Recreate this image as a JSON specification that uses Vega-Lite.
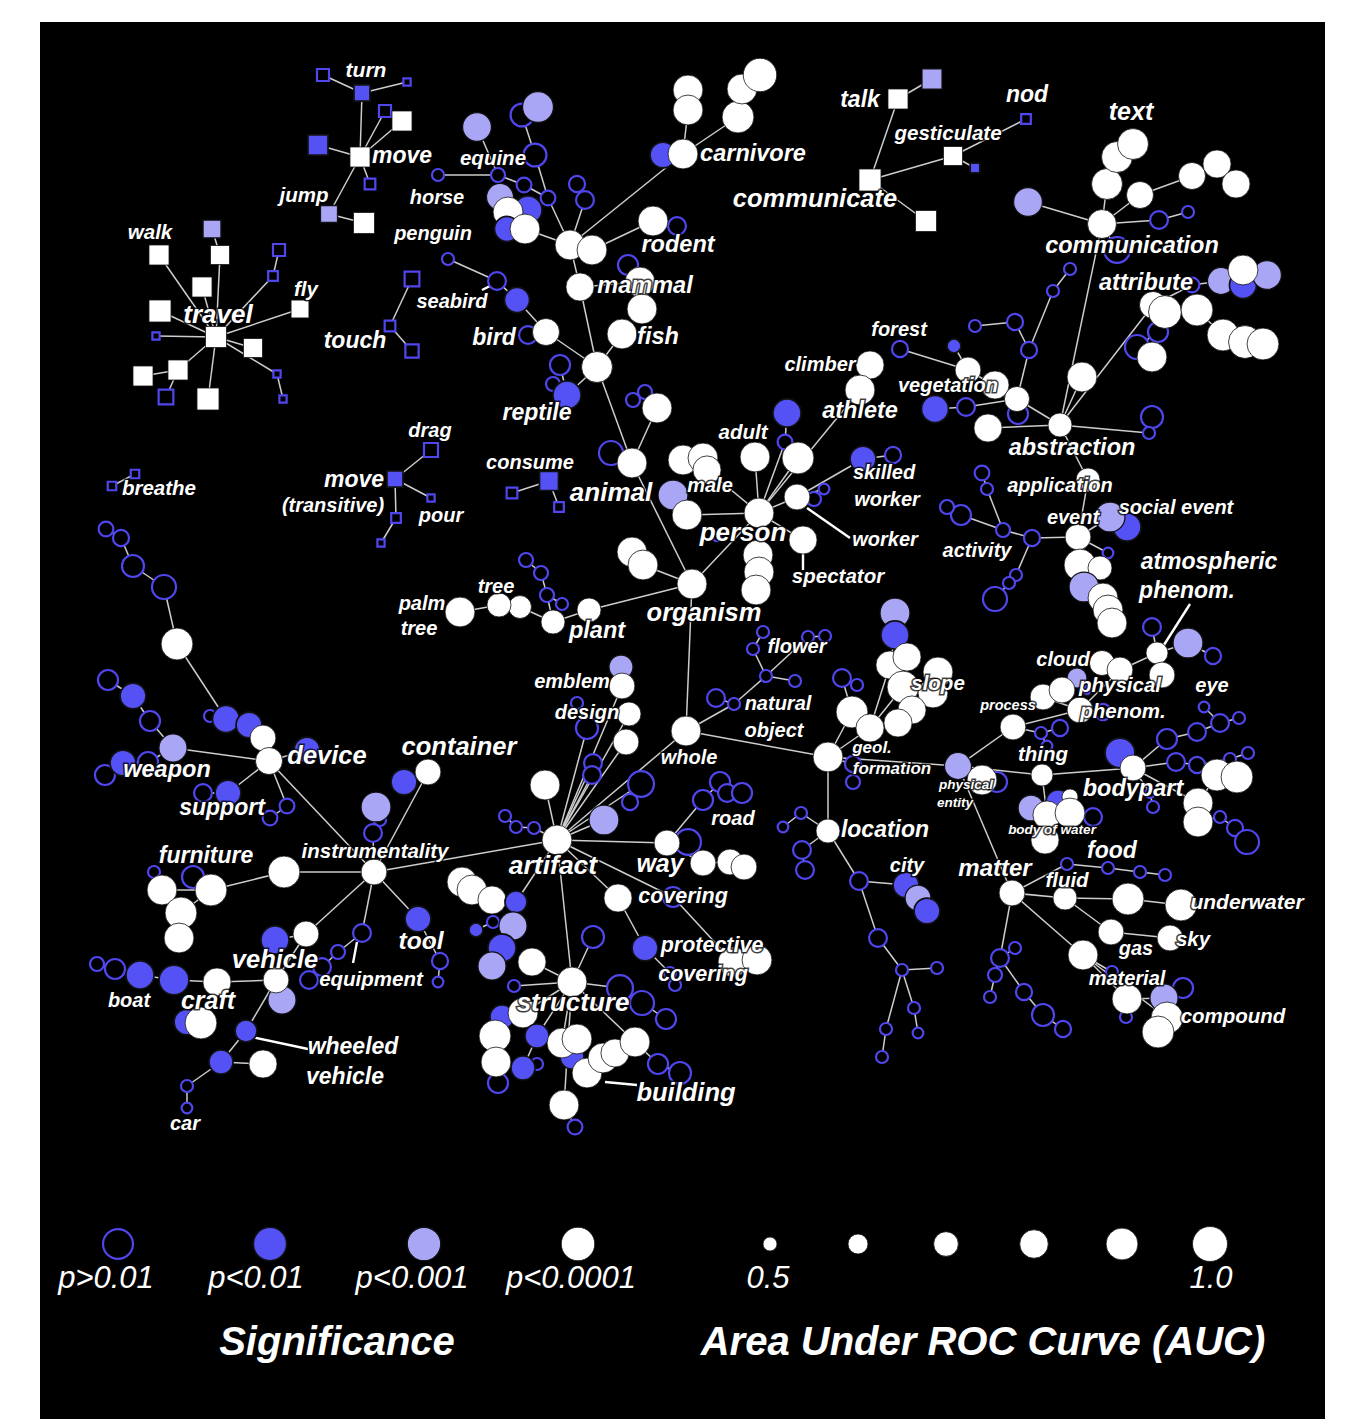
{
"$schema": "https://vega.github.io/schema/vega-lite/v6.json",
"width": 1285, "height": 1397,
"autosize": {"type": "none"},
"padding": {"left": 40, "top": 22, "right": 32, "bottom": 0},
"background": "white",
"config": {"view": {"fill": "black", "stroke": null}},
"resolve": {"scale": {"size": "independent"}},
"datasets": {
"nodes": [
{"id":"v1","x":362,"y":93,"sig":"<0.01","auc":0.53,"shape":"square"},
{"id":"v2","x":323,"y":75,"sig":">0.01","auc":0.475,"shape":"square"},
{"id":"v3","x":407,"y":82,"sig":">0.01","auc":0.43,"shape":"square"},
{"id":"v4","x":360,"y":157,"sig":"<0.0001","auc":0.6,"shape":"square"},
{"id":"v5","x":385,"y":111,"sig":">0.01","auc":0.475,"shape":"square"},
{"id":"v6","x":402,"y":121,"sig":"<0.0001","auc":0.6,"shape":"square"},
{"id":"v7","x":318,"y":145,"sig":"<0.01","auc":0.6,"shape":"square"},
{"id":"v8","x":370,"y":184,"sig":">0.01","auc":0.46,"shape":"square"},
{"id":"v9","x":329,"y":214,"sig":"<0.001","auc":0.545,"shape":"square"},
{"id":"v10","x":364,"y":223,"sig":"<0.0001","auc":0.62,"shape":"square"},
{"id":"t0","x":216,"y":337,"sig":"<0.0001","auc":0.62,"shape":"square"},
{"id":"t1","x":159,"y":255,"sig":"<0.0001","auc":0.6,"shape":"square"},
{"id":"t2","x":212,"y":229,"sig":"<0.001","auc":0.56,"shape":"square"},
{"id":"t3","x":220,"y":255,"sig":"<0.0001","auc":0.58,"shape":"square"},
{"id":"t4","x":279,"y":250,"sig":">0.01","auc":0.475,"shape":"square"},
{"id":"t5","x":273,"y":276,"sig":">0.01","auc":0.45,"shape":"square"},
{"id":"t6","x":202,"y":287,"sig":"<0.0001","auc":0.6,"shape":"square"},
{"id":"t7","x":160,"y":311,"sig":"<0.0001","auc":0.64,"shape":"square"},
{"id":"t8","x":300,"y":309,"sig":"<0.0001","auc":0.56,"shape":"square"},
{"id":"t9","x":156,"y":336,"sig":">0.01","auc":0.43,"shape":"square"},
{"id":"t10","x":253,"y":348,"sig":"<0.0001","auc":0.58,"shape":"square"},
{"id":"t11","x":277,"y":374,"sig":">0.01","auc":0.43,"shape":"square"},
{"id":"t12","x":283,"y":399,"sig":">0.01","auc":0.43,"shape":"square"},
{"id":"t13","x":178,"y":370,"sig":"<0.0001","auc":0.6,"shape":"square"},
{"id":"t14","x":143,"y":376,"sig":"<0.0001","auc":0.6,"shape":"square"},
{"id":"t15","x":166,"y":397,"sig":">0.01","auc":0.51,"shape":"square"},
{"id":"t16","x":208,"y":399,"sig":"<0.0001","auc":0.64,"shape":"square"},
{"id":"u1","x":412,"y":279,"sig":">0.01","auc":0.51,"shape":"square"},
{"id":"u2","x":390,"y":326,"sig":">0.01","auc":0.46,"shape":"square"},
{"id":"u3","x":412,"y":351,"sig":">0.01","auc":0.49,"shape":"square"},
{"id":"c1","x":898,"y":99,"sig":"<0.0001","auc":0.6,"shape":"square"},
{"id":"c2","x":932,"y":79,"sig":"<0.001","auc":0.6,"shape":"square"},
{"id":"c3","x":870,"y":180,"sig":"<0.0001","auc":0.64,"shape":"square"},
{"id":"c4","x":953,"y":156,"sig":"<0.0001","auc":0.58,"shape":"square"},
{"id":"c5","x":975,"y":168,"sig":"<0.01","auc":0.45,"shape":"square"},
{"id":"c6","x":1026,"y":119,"sig":">0.01","auc":0.45,"shape":"square"},
{"id":"c7","x":926,"y":221,"sig":"<0.0001","auc":0.62,"shape":"square"},
{"id":"d1","x":395,"y":479,"sig":"<0.01","auc":0.53,"shape":"square"},
{"id":"d2","x":431,"y":450,"sig":">0.01","auc":0.5,"shape":"square"},
{"id":"d3","x":431,"y":498,"sig":">0.01","auc":0.43,"shape":"square"},
{"id":"d4","x":396,"y":518,"sig":">0.01","auc":0.45,"shape":"square"},
{"id":"d5","x":381,"y":543,"sig":">0.01","auc":0.43,"shape":"square"},
{"id":"b1","x":112,"y":486,"sig":">0.01","auc":0.44,"shape":"square"},
{"id":"b2","x":135,"y":474,"sig":">0.01","auc":0.44,"shape":"square"},
{"id":"e1","x":549,"y":481,"sig":"<0.01","auc":0.58,"shape":"square"},
{"id":"e2","x":512,"y":493,"sig":">0.01","auc":0.46,"shape":"square"},
{"id":"e3","x":559,"y":507,"sig":">0.01","auc":0.45,"shape":"square"},
{"id":"a1","x":438,"y":175,"sig":">0.01","auc":0.475},
{"id":"a2","x":498,"y":175,"sig":">0.01","auc":0.5},
{"id":"a3","x":477,"y":127,"sig":"<0.001","auc":0.81},
{"id":"a4","x":522,"y":115,"sig":">0.01","auc":0.66},
{"id":"a5","x":538,"y":107,"sig":"<0.001","auc":0.87},
{"id":"a6","x":535,"y":155,"sig":">0.01","auc":0.66},
{"id":"a7","x":524,"y":185,"sig":">0.01","auc":0.51},
{"id":"a8","x":548,"y":198,"sig":">0.01","auc":0.51},
{"id":"a9","x":577,"y":184,"sig":">0.01","auc":0.53},
{"id":"a10","x":585,"y":200,"sig":">0.01","auc":0.56},
{"id":"a11","x":500,"y":197,"sig":"<0.001","auc":0.76},
{"id":"a12","x":528,"y":210,"sig":"<0.01","auc":0.79},
{"id":"a13","x":508,"y":212,"sig":"<0.0001","auc":0.84},
{"id":"a14","x":507,"y":229,"sig":"<0.01","auc":0.71},
{"id":"a15","x":525,"y":229,"sig":"<0.0001","auc":0.84},
{"id":"a0","x":570,"y":245,"sig":"<0.0001","auc":0.84},
{"id":"a0b","x":592,"y":250,"sig":"<0.0001","auc":0.84},
{"id":"a21","x":663,"y":155,"sig":"<0.01","auc":0.73},
{"id":"a20","x":683,"y":154,"sig":"<0.0001","auc":0.84},
{"id":"a22","x":688,"y":90,"sig":"<0.0001","auc":0.84},
{"id":"a23","x":688,"y":110,"sig":"<0.0001","auc":0.84},
{"id":"a24","x":738,"y":117,"sig":"<0.0001","auc":0.9},
{"id":"a25","x":742,"y":89,"sig":"<0.0001","auc":0.84},
{"id":"a26","x":760,"y":75,"sig":"<0.0001","auc":0.95},
{"id":"a28","x":677,"y":226,"sig":">0.01","auc":0.56},
{"id":"a27","x":653,"y":221,"sig":"<0.0001","auc":0.84},
{"id":"a31","x":628,"y":265,"sig":">0.01","auc":0.6},
{"id":"a30","x":580,"y":287,"sig":"<0.0001","auc":0.79},
{"id":"a32","x":640,"y":282,"sig":"<0.0001","auc":0.84},
{"id":"a33","x":642,"y":309,"sig":"<0.0001","auc":0.84},
{"id":"a34","x":622,"y":334,"sig":"<0.0001","auc":0.84},
{"id":"a36","x":448,"y":259,"sig":">0.01","auc":0.475},
{"id":"a37","x":497,"y":281,"sig":">0.01","auc":0.56},
{"id":"a38","x":517,"y":300,"sig":"<0.01","auc":0.71},
{"id":"a40","x":528,"y":335,"sig":">0.01","auc":0.56},
{"id":"a39","x":546,"y":332,"sig":"<0.0001","auc":0.76},
{"id":"a41","x":560,"y":365,"sig":">0.01","auc":0.6},
{"id":"a42","x":553,"y":384,"sig":">0.01","auc":0.5},
{"id":"a43","x":567,"y":395,"sig":"<0.01","auc":0.79},
{"id":"a35","x":597,"y":367,"sig":"<0.0001","auc":0.87},
{"id":"a45","x":611,"y":453,"sig":">0.01","auc":0.685},
{"id":"a44","x":632,"y":463,"sig":"<0.0001","auc":0.84},
{"id":"a47","x":633,"y":400,"sig":">0.01","auc":0.5},
{"id":"a48","x":645,"y":392,"sig":">0.01","auc":0.5},
{"id":"a46","x":657,"y":408,"sig":"<0.0001","auc":0.84},
{"id":"o1","x":632,"y":552,"sig":"<0.0001","auc":0.84},
{"id":"o2","x":643,"y":565,"sig":"<0.0001","auc":0.84},
{"id":"o0","x":692,"y":584,"sig":"<0.0001","auc":0.84},
{"id":"o4","x":683,"y":460,"sig":"<0.0001","auc":0.84},
{"id":"o5","x":703,"y":458,"sig":"<0.0001","auc":0.84},
{"id":"o6","x":707,"y":470,"sig":"<0.0001","auc":0.79},
{"id":"o7","x":673,"y":495,"sig":"<0.001","auc":0.84},
{"id":"o8","x":687,"y":515,"sig":"<0.0001","auc":0.84},
{"id":"o9","x":755,"y":457,"sig":"<0.0001","auc":0.84},
{"id":"o10","x":787,"y":413,"sig":"<0.01","auc":0.79},
{"id":"o11","x":785,"y":442,"sig":">0.01","auc":0.51},
{"id":"o12","x":798,"y":458,"sig":"<0.0001","auc":0.9},
{"id":"o13","x":870,"y":365,"sig":"<0.0001","auc":0.79},
{"id":"o14","x":860,"y":390,"sig":"<0.0001","auc":0.84},
{"id":"o16","x":814,"y":499,"sig":">0.01","auc":0.5},
{"id":"o17","x":824,"y":489,"sig":">0.01","auc":0.46},
{"id":"o15","x":797,"y":497,"sig":"<0.0001","auc":0.73},
{"id":"o18","x":863,"y":459,"sig":"<0.01","auc":0.73},
{"id":"o19","x":893,"y":455,"sig":">0.01","auc":0.53},
{"id":"o24","x":717,"y":537,"sig":">0.01","auc":0.44},
{"id":"o3","x":759,"y":513,"sig":"<0.0001","auc":0.84},
{"id":"o20","x":803,"y":540,"sig":"<0.0001","auc":0.79},
{"id":"o21","x":758,"y":555,"sig":"<0.0001","auc":0.84},
{"id":"o22","x":759,"y":572,"sig":"<0.0001","auc":0.84},
{"id":"o23","x":756,"y":590,"sig":"<0.0001","auc":0.84},
{"id":"o27","x":526,"y":560,"sig":">0.01","auc":0.5},
{"id":"o28","x":541,"y":573,"sig":">0.01","auc":0.5},
{"id":"o29","x":547,"y":595,"sig":">0.01","auc":0.5},
{"id":"o30","x":562,"y":604,"sig":">0.01","auc":0.475},
{"id":"o26","x":553,"y":622,"sig":"<0.0001","auc":0.685},
{"id":"o25","x":589,"y":610,"sig":"<0.0001","auc":0.685},
{"id":"o31","x":520,"y":607,"sig":"<0.0001","auc":0.66},
{"id":"o32","x":499,"y":605,"sig":"<0.0001","auc":0.685},
{"id":"o33","x":460,"y":612,"sig":"<0.0001","auc":0.84},
{"id":"w0","x":686,"y":731,"sig":"<0.0001","auc":0.84},
{"id":"w1","x":734,"y":704,"sig":">0.01","auc":0.475},
{"id":"w2","x":716,"y":698,"sig":">0.01","auc":0.56},
{"id":"w3","x":766,"y":676,"sig":">0.01","auc":0.475},
{"id":"w4","x":753,"y":649,"sig":">0.01","auc":0.475},
{"id":"w5","x":763,"y":632,"sig":">0.01","auc":0.475},
{"id":"w6","x":795,"y":681,"sig":">0.01","auc":0.475},
{"id":"w7","x":808,"y":637,"sig":">0.01","auc":0.475},
{"id":"w8","x":825,"y":636,"sig":">0.01","auc":0.475},
{"id":"w22","x":842,"y":678,"sig":">0.01","auc":0.56},
{"id":"w23","x":857,"y":685,"sig":">0.01","auc":0.475},
{"id":"w11","x":895,"y":613,"sig":"<0.001","auc":0.84},
{"id":"w12","x":895,"y":635,"sig":"<0.01","auc":0.79},
{"id":"w13","x":890,"y":665,"sig":"<0.0001","auc":0.79},
{"id":"w14","x":907,"y":657,"sig":"<0.0001","auc":0.79},
{"id":"w15","x":938,"y":672,"sig":"<0.0001","auc":0.84},
{"id":"w16","x":903,"y":687,"sig":"<0.0001","auc":0.9},
{"id":"w17","x":933,"y":693,"sig":"<0.0001","auc":0.84},
{"id":"w18","x":852,"y":712,"sig":"<0.0001","auc":0.9},
{"id":"w21","x":912,"y":710,"sig":"<0.0001","auc":0.79},
{"id":"w20","x":898,"y":723,"sig":"<0.0001","auc":0.79},
{"id":"w19","x":870,"y":728,"sig":"<0.0001","auc":0.79},
{"id":"w24","x":853,"y":764,"sig":">0.01","auc":0.53},
{"id":"w25","x":853,"y":782,"sig":">0.01","auc":0.5},
{"id":"w10","x":828,"y":757,"sig":"<0.0001","auc":0.84},
{"id":"r4","x":577,"y":703,"sig":">0.01","auc":0.475},
{"id":"r1","x":621,"y":667,"sig":"<0.001","auc":0.685},
{"id":"r2","x":622,"y":686,"sig":"<0.0001","auc":0.73},
{"id":"r3","x":629,"y":714,"sig":"<0.0001","auc":0.685},
{"id":"r5","x":587,"y":728,"sig":">0.01","auc":0.64},
{"id":"r6","x":626,"y":742,"sig":"<0.0001","auc":0.73},
{"id":"r7","x":593,"y":763,"sig":">0.01","auc":0.56},
{"id":"r8","x":592,"y":775,"sig":">0.01","auc":0.56},
{"id":"r9","x":641,"y":784,"sig":">0.01","auc":0.73},
{"id":"r10","x":630,"y":802,"sig":">0.01","auc":0.53},
{"id":"r11","x":604,"y":820,"sig":"<0.001","auc":0.84},
{"id":"r12","x":545,"y":785,"sig":"<0.0001","auc":0.84},
{"id":"r13","x":505,"y":816,"sig":">0.01","auc":0.475},
{"id":"r14","x":516,"y":827,"sig":">0.01","auc":0.475},
{"id":"r15","x":534,"y":828,"sig":">0.01","auc":0.475},
{"id":"r0","x":557,"y":840,"sig":"<0.0001","auc":0.84},
{"id":"r22","x":703,"y":800,"sig":">0.01","auc":0.6},
{"id":"r23","x":720,"y":782,"sig":">0.01","auc":0.6},
{"id":"r25","x":727,"y":793,"sig":">0.01","auc":0.56},
{"id":"r24","x":742,"y":793,"sig":">0.01","auc":0.6},
{"id":"r21","x":688,"y":842,"sig":">0.01","auc":0.73},
{"id":"r20","x":667,"y":843,"sig":"<0.0001","auc":0.73},
{"id":"r26","x":703,"y":863,"sig":"<0.0001","auc":0.73},
{"id":"r27","x":730,"y":862,"sig":"<0.0001","auc":0.73},
{"id":"r28","x":744,"y":867,"sig":"<0.0001","auc":0.73},
{"id":"r31","x":673,"y":897,"sig":">0.01","auc":0.6},
{"id":"r30","x":618,"y":898,"sig":"<0.0001","auc":0.79},
{"id":"r32","x":645,"y":948,"sig":"<0.01","auc":0.73},
{"id":"r33b","x":670,"y":973,"sig":">0.01","auc":0.475},
{"id":"r33","x":675,"y":985,"sig":">0.01","auc":0.475},
{"id":"r34","x":733,"y":962,"sig":"<0.0001","auc":0.84},
{"id":"r35","x":757,"y":960,"sig":"<0.0001","auc":0.84},
{"id":"s7","x":493,"y":922,"sig":">0.01","auc":0.475},
{"id":"s8","x":476,"y":930,"sig":"<0.01","auc":0.5},
{"id":"s10","x":462,"y":882,"sig":"<0.0001","auc":0.84},
{"id":"s11","x":472,"y":890,"sig":"<0.0001","auc":0.84},
{"id":"s12","x":492,"y":900,"sig":"<0.0001","auc":0.79},
{"id":"s9","x":516,"y":902,"sig":"<0.01","auc":0.64},
{"id":"s4","x":513,"y":926,"sig":"<0.001","auc":0.79},
{"id":"s5","x":502,"y":948,"sig":"<0.01","auc":0.79},
{"id":"s6","x":492,"y":966,"sig":"<0.001","auc":0.79},
{"id":"s1","x":593,"y":937,"sig":">0.01","auc":0.64},
{"id":"s2","x":532,"y":962,"sig":"<0.0001","auc":0.79},
{"id":"s3","x":514,"y":986,"sig":">0.01","auc":0.475},
{"id":"s20","x":620,"y":988,"sig":">0.01","auc":0.73},
{"id":"s21","x":642,"y":1003,"sig":">0.01","auc":0.685},
{"id":"s22","x":666,"y":1019,"sig":">0.01","auc":0.6},
{"id":"s24","x":502,"y":1017,"sig":"<0.01","auc":0.685},
{"id":"s23","x":523,"y":1013,"sig":"<0.0001","auc":0.84},
{"id":"s26","x":537,"y":1036,"sig":"<0.01","auc":0.685},
{"id":"s25","x":495,"y":1036,"sig":"<0.0001","auc":0.9},
{"id":"s29","x":537,"y":1064,"sig":">0.01","auc":0.475},
{"id":"s30","x":498,"y":1083,"sig":">0.01","auc":0.6},
{"id":"s28","x":523,"y":1068,"sig":"<0.01","auc":0.685},
{"id":"s27","x":496,"y":1062,"sig":"<0.0001","auc":0.84},
{"id":"s33","x":572,"y":1057,"sig":"<0.01","auc":0.685},
{"id":"s31","x":562,"y":1043,"sig":"<0.0001","auc":0.84},
{"id":"s32","x":577,"y":1039,"sig":"<0.0001","auc":0.84},
{"id":"s38","x":658,"y":1064,"sig":">0.01","auc":0.6},
{"id":"s39","x":680,"y":1073,"sig":">0.01","auc":0.64},
{"id":"s34","x":587,"y":1073,"sig":"<0.0001","auc":0.84},
{"id":"s35","x":603,"y":1058,"sig":"<0.0001","auc":0.84},
{"id":"s36","x":615,"y":1053,"sig":"<0.0001","auc":0.79},
{"id":"s37","x":635,"y":1042,"sig":"<0.0001","auc":0.84},
{"id":"s0","x":572,"y":982,"sig":"<0.0001","auc":0.84},
{"id":"s41","x":575,"y":1127,"sig":">0.01","auc":0.51},
{"id":"s40","x":564,"y":1105,"sig":"<0.0001","auc":0.84},
{"id":"i16","x":106,"y":529,"sig":">0.01","auc":0.51},
{"id":"i15","x":121,"y":538,"sig":">0.01","auc":0.53},
{"id":"i14","x":133,"y":566,"sig":">0.01","auc":0.64},
{"id":"i13","x":164,"y":587,"sig":">0.01","auc":0.685},
{"id":"i12","x":177,"y":644,"sig":"<0.0001","auc":0.9},
{"id":"i10","x":210,"y":716,"sig":">0.01","auc":0.475},
{"id":"i9","x":226,"y":719,"sig":"<0.01","auc":0.76},
{"id":"i8","x":249,"y":725,"sig":"<0.01","auc":0.73},
{"id":"i11","x":307,"y":750,"sig":"<0.01","auc":0.73},
{"id":"i7","x":263,"y":738,"sig":"<0.0001","auc":0.73},
{"id":"i6","x":269,"y":761,"sig":"<0.0001","auc":0.76},
{"id":"i20","x":108,"y":680,"sig":">0.01","auc":0.6},
{"id":"i19","x":133,"y":696,"sig":"<0.01","auc":0.73},
{"id":"i18","x":150,"y":721,"sig":">0.01","auc":0.6},
{"id":"i17","x":173,"y":748,"sig":"<0.001","auc":0.79},
{"id":"i23","x":105,"y":775,"sig":">0.01","auc":0.6},
{"id":"i22","x":123,"y":763,"sig":"<0.01","auc":0.73},
{"id":"i21","x":148,"y":762,"sig":">0.01","auc":0.6},
{"id":"i25","x":203,"y":793,"sig":">0.01","auc":0.56},
{"id":"i24","x":228,"y":793,"sig":"<0.01","auc":0.73},
{"id":"i26","x":287,"y":806,"sig":">0.01","auc":0.51},
{"id":"i27","x":270,"y":818,"sig":">0.01","auc":0.51},
{"id":"i5","x":380,"y":820,"sig":">0.01","auc":0.475},
{"id":"i4","x":373,"y":833,"sig":">0.01","auc":0.56},
{"id":"i3","x":376,"y":807,"sig":"<0.001","auc":0.84},
{"id":"i2","x":404,"y":782,"sig":"<0.01","auc":0.73},
{"id":"i1","x":428,"y":772,"sig":"<0.0001","auc":0.73},
{"id":"i0","x":374,"y":872,"sig":"<0.0001","auc":0.73},
{"id":"i30","x":284,"y":872,"sig":"<0.0001","auc":0.9},
{"id":"i34","x":154,"y":872,"sig":">0.01","auc":0.475},
{"id":"i33","x":193,"y":877,"sig":">0.01","auc":0.64},
{"id":"i32","x":162,"y":890,"sig":"<0.0001","auc":0.84},
{"id":"i31","x":211,"y":890,"sig":"<0.0001","auc":0.9},
{"id":"i35","x":181,"y":913,"sig":"<0.0001","auc":0.9},
{"id":"i36","x":179,"y":938,"sig":"<0.0001","auc":0.84},
{"id":"i41","x":275,"y":940,"sig":"<0.01","auc":0.79},
{"id":"i40","x":306,"y":934,"sig":"<0.0001","auc":0.73},
{"id":"i60","x":362,"y":933,"sig":">0.01","auc":0.56},
{"id":"i61","x":338,"y":952,"sig":">0.01","auc":0.5},
{"id":"i62","x":322,"y":967,"sig":">0.01","auc":0.56},
{"id":"i63","x":309,"y":980,"sig":">0.01","auc":0.56},
{"id":"i64","x":418,"y":919,"sig":"<0.01","auc":0.73},
{"id":"i65","x":440,"y":961,"sig":">0.01","auc":0.53},
{"id":"i66","x":438,"y":982,"sig":">0.01","auc":0.46},
{"id":"i47","x":97,"y":964,"sig":">0.01","auc":0.5},
{"id":"i46","x":115,"y":969,"sig":">0.01","auc":0.6},
{"id":"i45","x":140,"y":975,"sig":"<0.01","auc":0.79},
{"id":"i44","x":174,"y":980,"sig":"<0.01","auc":0.84},
{"id":"i43","x":217,"y":982,"sig":"<0.0001","auc":0.79},
{"id":"i48","x":187,"y":1022,"sig":"<0.01","auc":0.73},
{"id":"i49","x":201,"y":1023,"sig":"<0.0001","auc":0.9},
{"id":"i50","x":282,"y":1000,"sig":"<0.001","auc":0.79},
{"id":"i42","x":276,"y":980,"sig":"<0.0001","auc":0.73},
{"id":"i51","x":246,"y":1031,"sig":"<0.01","auc":0.64},
{"id":"i52","x":221,"y":1062,"sig":"<0.01","auc":0.685},
{"id":"i53","x":263,"y":1064,"sig":"<0.0001","auc":0.79},
{"id":"i54","x":187,"y":1086,"sig":">0.01","auc":0.475},
{"id":"i55","x":187,"y":1108,"sig":">0.01","auc":0.46},
{"id":"l0","x":828,"y":831,"sig":"<0.0001","auc":0.685},
{"id":"l1","x":801,"y":813,"sig":">0.01","auc":0.475},
{"id":"l2","x":783,"y":827,"sig":">0.01","auc":0.46},
{"id":"l3","x":802,"y":850,"sig":">0.01","auc":0.56},
{"id":"l4","x":805,"y":870,"sig":">0.01","auc":0.56},
{"id":"l5","x":859,"y":881,"sig":">0.01","auc":0.56},
{"id":"l6","x":906,"y":885,"sig":"<0.01","auc":0.73},
{"id":"l7","x":918,"y":898,"sig":"<0.001","auc":0.73},
{"id":"l8","x":927,"y":911,"sig":"<0.01","auc":0.73},
{"id":"l9","x":878,"y":938,"sig":">0.01","auc":0.56},
{"id":"l10","x":902,"y":970,"sig":">0.01","auc":0.475},
{"id":"l11","x":937,"y":968,"sig":">0.01","auc":0.475},
{"id":"l12","x":914,"y":1008,"sig":">0.01","auc":0.475},
{"id":"l13","x":918,"y":1033,"sig":">0.01","auc":0.46},
{"id":"l14","x":886,"y":1029,"sig":">0.01","auc":0.475},
{"id":"l15","x":882,"y":1057,"sig":">0.01","auc":0.475},
{"id":"p2","x":997,"y":782,"sig":">0.01","auc":0.6},
{"id":"p0","x":958,"y":766,"sig":"<0.001","auc":0.76},
{"id":"p1","x":982,"y":780,"sig":"<0.0001","auc":0.84},
{"id":"p5","x":1060,"y":728,"sig":">0.01","auc":0.53},
{"id":"p6","x":1041,"y":733,"sig":">0.01","auc":0.475},
{"id":"p7","x":1047,"y":746,"sig":">0.01","auc":0.46},
{"id":"p3","x":1013,"y":727,"sig":"<0.0001","auc":0.73},
{"id":"p8","x":1077,"y":678,"sig":"<0.001","auc":0.6},
{"id":"p9","x":1087,"y":690,"sig":"<0.01","auc":0.47},
{"id":"p11","x":1043,"y":697,"sig":"<0.0001","auc":0.73},
{"id":"p10","x":1062,"y":690,"sig":"<0.0001","auc":0.73},
{"id":"p12","x":1103,"y":712,"sig":">0.01","auc":0.53},
{"id":"p4","x":1080,"y":710,"sig":"<0.0001","auc":0.73},
{"id":"p13","x":1102,"y":663,"sig":"<0.0001","auc":0.71},
{"id":"p14","x":1120,"y":670,"sig":"<0.0001","auc":0.73},
{"id":"p17","x":1152,"y":627,"sig":">0.01","auc":0.56},
{"id":"p18","x":1188,"y":643,"sig":"<0.001","auc":0.84},
{"id":"p19","x":1213,"y":656,"sig":">0.01","auc":0.53},
{"id":"p15","x":1157,"y":653,"sig":"<0.0001","auc":0.64},
{"id":"p16","x":1162,"y":675,"sig":"<0.0001","auc":0.73},
{"id":"p20","x":1042,"y":775,"sig":"<0.0001","auc":0.64},
{"id":"p27","x":1093,"y":817,"sig":">0.01","auc":0.56},
{"id":"p21","x":1031,"y":808,"sig":"<0.001","auc":0.73},
{"id":"p22","x":1058,"y":802,"sig":"<0.01","auc":0.685},
{"id":"p23","x":1070,"y":797,"sig":"<0.0001","auc":0.53},
{"id":"p24","x":1047,"y":815,"sig":"<0.0001","auc":0.79},
{"id":"p25","x":1070,"y":813,"sig":"<0.0001","auc":0.84},
{"id":"p26","x":1045,"y":840,"sig":"<0.0001","auc":0.79},
{"id":"p31","x":1120,"y":753,"sig":"<0.01","auc":0.84},
{"id":"p30","x":1133,"y":768,"sig":"<0.0001","auc":0.73},
{"id":"p32","x":1167,"y":739,"sig":">0.01","auc":0.6},
{"id":"p33","x":1197,"y":732,"sig":">0.01","auc":0.56},
{"id":"p34","x":1220,"y":723,"sig":">0.01","auc":0.56},
{"id":"p35","x":1204,"y":707,"sig":">0.01","auc":0.46},
{"id":"p36","x":1239,"y":718,"sig":">0.01","auc":0.475},
{"id":"p37","x":1176,"y":762,"sig":">0.01","auc":0.56},
{"id":"p38","x":1197,"y":765,"sig":">0.01","auc":0.53},
{"id":"p39","x":1230,"y":759,"sig":">0.01","auc":0.475},
{"id":"p40","x":1248,"y":753,"sig":">0.01","auc":0.475},
{"id":"p49","x":1150,"y":793,"sig":">0.01","auc":0.45},
{"id":"p48","x":1153,"y":807,"sig":">0.01","auc":0.475},
{"id":"p45","x":1220,"y":817,"sig":">0.01","auc":0.475},
{"id":"p46","x":1235,"y":828,"sig":">0.01","auc":0.53},
{"id":"p47","x":1247,"y":842,"sig":">0.01","auc":0.685},
{"id":"p41","x":1217,"y":775,"sig":"<0.0001","auc":0.9},
{"id":"p42","x":1237,"y":777,"sig":"<0.0001","auc":0.9},
{"id":"p43","x":1198,"y":803,"sig":"<0.0001","auc":0.84},
{"id":"p44","x":1198,"y":822,"sig":"<0.0001","auc":0.84},
{"id":"m0","x":1012,"y":893,"sig":"<0.0001","auc":0.73},
{"id":"m1","x":1067,"y":864,"sig":">0.01","auc":0.475},
{"id":"m2","x":1108,"y":868,"sig":">0.01","auc":0.475},
{"id":"m3","x":1140,"y":872,"sig":">0.01","auc":0.475},
{"id":"m4","x":1165,"y":875,"sig":">0.01","auc":0.475},
{"id":"m5","x":1065,"y":898,"sig":"<0.0001","auc":0.685},
{"id":"m6","x":1128,"y":899,"sig":"<0.0001","auc":0.9},
{"id":"m7","x":1181,"y":905,"sig":"<0.0001","auc":0.9},
{"id":"m8","x":1111,"y":932,"sig":"<0.0001","auc":0.73},
{"id":"m9","x":1170,"y":938,"sig":"<0.0001","auc":0.73},
{"id":"m11","x":1112,"y":972,"sig":">0.01","auc":0.475},
{"id":"m10","x":1083,"y":955,"sig":"<0.0001","auc":0.84},
{"id":"m14","x":1183,"y":988,"sig":">0.01","auc":0.6},
{"id":"m15","x":1126,"y":1017,"sig":">0.01","auc":0.475},
{"id":"m12","x":1127,"y":999,"sig":"<0.0001","auc":0.84},
{"id":"m13","x":1164,"y":998,"sig":"<0.001","auc":0.79},
{"id":"m16","x":1167,"y":1018,"sig":"<0.0001","auc":0.9},
{"id":"m17","x":1158,"y":1032,"sig":"<0.0001","auc":0.9},
{"id":"m18","x":1000,"y":958,"sig":">0.01","auc":0.56},
{"id":"m19","x":1015,"y":948,"sig":">0.01","auc":0.475},
{"id":"m20","x":995,"y":975,"sig":">0.01","auc":0.5},
{"id":"m21","x":990,"y":997,"sig":">0.01","auc":0.475},
{"id":"m22","x":1024,"y":992,"sig":">0.01","auc":0.53},
{"id":"m23","x":1043,"y":1015,"sig":">0.01","auc":0.64},
{"id":"m24","x":1063,"y":1029,"sig":">0.01","auc":0.53},
{"id":"x2","x":1028,"y":202,"sig":"<0.001","auc":0.81},
{"id":"x12","x":1117,"y":250,"sig":">0.01","auc":0.73},
{"id":"x1","x":1102,"y":224,"sig":"<0.0001","auc":0.81},
{"id":"x3","x":1107,"y":184,"sig":"<0.0001","auc":0.87},
{"id":"x4","x":1117,"y":157,"sig":"<0.0001","auc":0.87},
{"id":"x5","x":1133,"y":144,"sig":"<0.0001","auc":0.87},
{"id":"x6","x":1140,"y":195,"sig":"<0.0001","auc":0.76},
{"id":"x7","x":1192,"y":176,"sig":"<0.0001","auc":0.76},
{"id":"x8","x":1217,"y":164,"sig":"<0.0001","auc":0.79},
{"id":"x9","x":1236,"y":184,"sig":"<0.0001","auc":0.79},
{"id":"x10","x":1159,"y":220,"sig":">0.01","auc":0.56},
{"id":"x11","x":1188,"y":212,"sig":">0.01","auc":0.475},
{"id":"x13","x":1070,"y":269,"sig":">0.01","auc":0.475},
{"id":"x14","x":1053,"y":291,"sig":">0.01","auc":0.475},
{"id":"x15","x":1029,"y":350,"sig":">0.01","auc":0.53},
{"id":"x16","x":1015,"y":322,"sig":">0.01","auc":0.53},
{"id":"x17","x":975,"y":326,"sig":">0.01","auc":0.475},
{"id":"x19","x":1192,"y":285,"sig":">0.01","auc":0.51},
{"id":"x20","x":1221,"y":281,"sig":"<0.001","auc":0.76},
{"id":"x20b","x":1243,"y":285,"sig":"<0.01","auc":0.76},
{"id":"x20d","x":1267,"y":275,"sig":"<0.001","auc":0.81},
{"id":"x20c","x":1243,"y":270,"sig":"<0.0001","auc":0.84},
{"id":"x27","x":1158,"y":332,"sig":">0.01","auc":0.6},
{"id":"x28","x":1137,"y":347,"sig":">0.01","auc":0.685},
{"id":"x18","x":1153,"y":305,"sig":"<0.0001","auc":0.76},
{"id":"x22","x":1165,"y":312,"sig":"<0.0001","auc":0.93},
{"id":"x23","x":1197,"y":310,"sig":"<0.0001","auc":0.9},
{"id":"x24","x":1223,"y":335,"sig":"<0.0001","auc":0.9},
{"id":"x25","x":1245,"y":342,"sig":"<0.0001","auc":0.93},
{"id":"x26","x":1263,"y":344,"sig":"<0.0001","auc":0.9},
{"id":"x29","x":1152,"y":357,"sig":"<0.0001","auc":0.84},
{"id":"x30","x":1082,"y":377,"sig":"<0.0001","auc":0.84},
{"id":"x32","x":900,"y":349,"sig":">0.01","auc":0.53},
{"id":"x33","x":954,"y":346,"sig":"<0.01","auc":0.5},
{"id":"x31","x":968,"y":370,"sig":"<0.0001","auc":0.73},
{"id":"x35","x":1018,"y":414,"sig":">0.01","auc":0.6},
{"id":"x34","x":995,"y":385,"sig":"<0.0001","auc":0.79},
{"id":"x21","x":1017,"y":399,"sig":"<0.0001","auc":0.71},
{"id":"x36","x":935,"y":409,"sig":"<0.01","auc":0.76},
{"id":"x37","x":966,"y":407,"sig":">0.01","auc":0.56},
{"id":"x38","x":988,"y":428,"sig":"<0.0001","auc":0.79},
{"id":"x39","x":1152,"y":417,"sig":">0.01","auc":0.64},
{"id":"x40","x":1149,"y":433,"sig":">0.01","auc":0.475},
{"id":"x0","x":1060,"y":425,"sig":"<0.0001","auc":0.685},
{"id":"x41","x":1088,"y":480,"sig":"<0.0001","auc":0.685},
{"id":"x44","x":1127,"y":527,"sig":"<0.01","auc":0.79},
{"id":"x43","x":1110,"y":517,"sig":"<0.001","auc":0.84},
{"id":"x45","x":1108,"y":553,"sig":">0.01","auc":0.46},
{"id":"x42","x":1078,"y":537,"sig":"<0.0001","auc":0.73},
{"id":"x46","x":1080,"y":565,"sig":"<0.0001","auc":0.9},
{"id":"x47","x":1100,"y":568,"sig":"<0.0001","auc":0.685},
{"id":"x48","x":1084,"y":587,"sig":"<0.001","auc":0.84},
{"id":"x49","x":1103,"y":598,"sig":"<0.0001","auc":0.84},
{"id":"x50","x":1108,"y":610,"sig":"<0.0001","auc":0.84},
{"id":"x51","x":1112,"y":623,"sig":"<0.0001","auc":0.84},
{"id":"x52","x":1032,"y":538,"sig":">0.01","auc":0.53},
{"id":"x53","x":1003,"y":530,"sig":">0.01","auc":0.5},
{"id":"x54","x":987,"y":489,"sig":">0.01","auc":0.475},
{"id":"x55","x":982,"y":473,"sig":">0.01","auc":0.51},
{"id":"x56","x":961,"y":515,"sig":">0.01","auc":0.6},
{"id":"x57","x":947,"y":507,"sig":">0.01","auc":0.5},
{"id":"x58","x":1016,"y":575,"sig":">0.01","auc":0.475},
{"id":"x59","x":1009,"y":583,"sig":">0.01","auc":0.475},
{"id":"x60","x":995,"y":599,"sig":">0.01","auc":0.685},
{"id":"lg1","x":118,"y":1244,"sig":">0.01","auc":0.84},
{"id":"lg2","x":270,"y":1244,"sig":"<0.01","auc":0.95},
{"id":"lg3","x":424,"y":1244,"sig":"<0.001","auc":0.95},
{"id":"lg4","x":578,"y":1244,"sig":"<0.0001","auc":0.95},
{"id":"lg5","x":770,"y":1244,"sig":"<0.0001","auc":0.5},
{"id":"lg6","x":858,"y":1244,"sig":"<0.0001","auc":0.6},
{"id":"lg7","x":946,"y":1244,"sig":"<0.0001","auc":0.7},
{"id":"lg8","x":1034,"y":1244,"sig":"<0.0001","auc":0.8},
{"id":"lg9","x":1122,"y":1244,"sig":"<0.0001","auc":0.9},
{"id":"lg10","x":1210,"y":1244,"sig":"<0.0001","auc":1.0}
],
"edges": [
{"s":"v1","t":"v2"},{"s":"v1","t":"v3"},{"s":"v1","t":"v4"},{"s":"v4","t":"v5"},{"s":"v4","t":"v6"},{"s":"v4","t":"v7"},{"s":"v4","t":"v8"},{"s":"v4","t":"v9"},{"s":"v9","t":"v10"},
{"s":"t0","t":"t1"},{"s":"t2","t":"t3"},{"s":"t3","t":"t0"},{"s":"t4","t":"t5"},{"s":"t5","t":"t0"},{"s":"t6","t":"t0"},{"s":"t7","t":"t0"},{"s":"t8","t":"t0"},{"s":"t9","t":"t0"},{"s":"t10","t":"t0"},{"s":"t0","t":"t11"},{"s":"t11","t":"t12"},{"s":"t0","t":"t13"},{"s":"t13","t":"t14"},{"s":"t13","t":"t15"},{"s":"t0","t":"t16"},
{"s":"u1","t":"u2"},{"s":"u2","t":"u3"},
{"s":"c1","t":"c2"},{"s":"c1","t":"c3"},{"s":"c3","t":"c4"},{"s":"c4","t":"c5"},{"s":"c4","t":"c6"},{"s":"c3","t":"c7"},
{"s":"d1","t":"d2"},{"s":"d1","t":"d3"},{"s":"d1","t":"d4"},{"s":"d4","t":"d5"},
{"s":"b1","t":"b2"},{"s":"e1","t":"e2"},{"s":"e1","t":"e3"},
{"s":"a1","t":"a2"},{"s":"a2","t":"a3"},{"s":"a2","t":"a7"},{"s":"a7","t":"a8"},{"s":"a8","t":"a0"},{"s":"a4","t":"a6"},{"s":"a6","t":"a8"},{"s":"a9","t":"a10"},{"s":"a10","t":"a0"},{"s":"a15","t":"a0"},{"s":"a0","t":"a20"},{"s":"a20","t":"a23"},{"s":"a23","t":"a22"},{"s":"a20","t":"a24"},{"s":"a24","t":"a25"},{"s":"a25","t":"a26"},{"s":"a0b","t":"a27"},{"s":"a27","t":"a28"},{"s":"a0","t":"a30"},{"s":"a30","t":"a32"},{"s":"a30","t":"a35"},{"s":"a34","t":"a35"},{"s":"a36","t":"a37"},{"s":"a37","t":"a38"},{"s":"a38","t":"a39"},{"s":"a39","t":"a35"},{"s":"a35","t":"a43"},{"s":"a43","t":"a41"},{"s":"a35","t":"a44"},{"s":"a44","t":"a46"},{"s":"a46","t":"a48"},{"s":"a44","t":"a45"},
{"s":"a44","t":"o0"},{"s":"o0","t":"o2"},{"s":"o2","t":"o1"},{"s":"o0","t":"o3"},{"s":"o3","t":"o6"},{"s":"o6","t":"o4"},{"s":"o3","t":"o8"},{"s":"o8","t":"o7"},{"s":"o3","t":"o9"},{"s":"o3","t":"o11"},{"s":"o11","t":"o10"},{"s":"o3","t":"o12"},{"s":"o3","t":"o14"},{"s":"o14","t":"o13"},{"s":"o3","t":"o15"},{"s":"o15","t":"o18"},{"s":"o18","t":"o19"},{"s":"o15","t":"o17"},{"s":"o3","t":"o20"},{"s":"o3","t":"o21"},{"s":"o21","t":"o22"},{"s":"o22","t":"o23"},{"s":"o0","t":"o25"},{"s":"o25","t":"o26"},{"s":"o26","t":"o29"},{"s":"o29","t":"o28"},{"s":"o28","t":"o27"},{"s":"o29","t":"o30"},{"s":"o26","t":"o31"},{"s":"o31","t":"o32"},{"s":"o32","t":"o33"},
{"s":"o0","t":"w0"},{"s":"w0","t":"w1"},{"s":"w1","t":"w2"},{"s":"w1","t":"w3"},{"s":"w3","t":"w4"},{"s":"w4","t":"w5"},{"s":"w3","t":"w6"},{"s":"w3","t":"w7"},{"s":"w7","t":"w8"},{"s":"w0","t":"w10"},{"s":"w10","t":"w19"},{"s":"w19","t":"w13"},{"s":"w19","t":"w16"},{"s":"w13","t":"w12"},{"s":"w12","t":"w11"},{"s":"w10","t":"w18"},{"s":"w18","t":"w22"},{"s":"w22","t":"w23"},{"s":"w10","t":"w24"},{"s":"w24","t":"w25"},
{"s":"w0","t":"r0"},{"s":"r0","t":"r2"},{"s":"r2","t":"r1"},{"s":"r0","t":"r3"},{"s":"r0","t":"r6"},{"s":"r0","t":"r5"},{"s":"r5","t":"r4"},{"s":"r0","t":"r7"},{"s":"r0","t":"r8"},{"s":"r0","t":"r9"},{"s":"r9","t":"r10"},{"s":"r0","t":"r11"},{"s":"r0","t":"r12"},{"s":"r13","t":"r14"},{"s":"r14","t":"r15"},{"s":"r15","t":"r0"},{"s":"r0","t":"r20"},{"s":"r20","t":"r22"},{"s":"r22","t":"r23"},{"s":"r23","t":"r25"},{"s":"r25","t":"r24"},{"s":"r20","t":"r21"},{"s":"r20","t":"r26"},{"s":"r26","t":"r27"},{"s":"r27","t":"r28"},{"s":"r0","t":"r30"},{"s":"r0","t":"r31"},{"s":"r31","t":"r34"},{"s":"r34","t":"r35"},{"s":"r30","t":"r32"},{"s":"r32","t":"r33b"},{"s":"r33b","t":"r33"},
{"s":"r0","t":"s0"},{"s":"s0","t":"s1"},{"s":"s0","t":"s2"},{"s":"s0","t":"s3"},{"s":"r0","t":"s9"},{"s":"s9","t":"s12"},{"s":"s12","t":"s11"},{"s":"s11","t":"s10"},{"s":"s9","t":"s4"},{"s":"s4","t":"s5"},{"s":"s5","t":"s6"},{"s":"s4","t":"s7"},{"s":"s7","t":"s8"},{"s":"s0","t":"s20"},{"s":"s20","t":"s21"},{"s":"s21","t":"s22"},{"s":"s0","t":"s23"},{"s":"s23","t":"s24"},{"s":"s0","t":"s26"},{"s":"s26","t":"s28"},{"s":"s28","t":"s27"},{"s":"s27","t":"s25"},{"s":"s28","t":"s29"},{"s":"s27","t":"s30"},{"s":"s0","t":"s31"},{"s":"s31","t":"s33"},{"s":"s33","t":"s32"},{"s":"s0","t":"s37"},{"s":"s37","t":"s36"},{"s":"s36","t":"s35"},{"s":"s35","t":"s34"},{"s":"s37","t":"s38"},{"s":"s38","t":"s39"},{"s":"s0","t":"s40"},{"s":"s40","t":"s41"},
{"s":"r0","t":"i0"},{"s":"i0","t":"i1"},{"s":"i1","t":"i2"},{"s":"i0","t":"i4"},{"s":"i4","t":"i3"},{"s":"i3","t":"i5"},{"s":"i0","t":"i6"},{"s":"i6","t":"i7"},{"s":"i7","t":"i8"},{"s":"i8","t":"i9"},{"s":"i9","t":"i10"},{"s":"i9","t":"i12"},{"s":"i12","t":"i13"},{"s":"i13","t":"i14"},{"s":"i14","t":"i15"},{"s":"i15","t":"i16"},{"s":"i6","t":"i11"},{"s":"i6","t":"i17"},{"s":"i17","t":"i18"},{"s":"i18","t":"i19"},{"s":"i19","t":"i20"},{"s":"i17","t":"i21"},{"s":"i21","t":"i22"},{"s":"i22","t":"i23"},{"s":"i6","t":"i24"},{"s":"i24","t":"i25"},{"s":"i6","t":"i26"},{"s":"i26","t":"i27"},{"s":"i0","t":"i30"},{"s":"i30","t":"i31"},{"s":"i31","t":"i32"},{"s":"i32","t":"i34"},{"s":"i31","t":"i33"},{"s":"i31","t":"i35"},{"s":"i35","t":"i36"},{"s":"i0","t":"i40"},{"s":"i40","t":"i41"},{"s":"i40","t":"i42"},{"s":"i42","t":"i43"},{"s":"i43","t":"i44"},{"s":"i44","t":"i45"},{"s":"i45","t":"i46"},{"s":"i46","t":"i47"},{"s":"i43","t":"i49"},{"s":"i49","t":"i48"},{"s":"i42","t":"i50"},{"s":"i42","t":"i51"},{"s":"i51","t":"i52"},{"s":"i52","t":"i53"},{"s":"i52","t":"i54"},{"s":"i54","t":"i55"},{"s":"i0","t":"i60"},{"s":"i60","t":"i61"},{"s":"i61","t":"i62"},{"s":"i62","t":"i63"},{"s":"i0","t":"i64"},{"s":"i64","t":"i65"},{"s":"i65","t":"i66"},
{"s":"w10","t":"l0"},{"s":"l0","t":"l1"},{"s":"l1","t":"l2"},{"s":"l0","t":"l3"},{"s":"l3","t":"l4"},{"s":"l0","t":"l5"},{"s":"l5","t":"l6"},{"s":"l6","t":"l7"},{"s":"l7","t":"l8"},{"s":"l5","t":"l9"},{"s":"l9","t":"l10"},{"s":"l10","t":"l11"},{"s":"l10","t":"l12"},{"s":"l12","t":"l13"},{"s":"l10","t":"l14"},{"s":"l14","t":"l15"},
{"s":"w10","t":"p0"},{"s":"p0","t":"p1"},{"s":"p1","t":"p2"},{"s":"p0","t":"p3"},{"s":"p3","t":"p4"},{"s":"p3","t":"p6"},{"s":"p6","t":"p5"},{"s":"p6","t":"p7"},{"s":"p4","t":"p11"},{"s":"p11","t":"p10"},{"s":"p10","t":"p8"},{"s":"p8","t":"p9"},{"s":"p4","t":"p12"},{"s":"p4","t":"p14"},{"s":"p14","t":"p13"},{"s":"p14","t":"p15"},{"s":"p15","t":"p17"},{"s":"p15","t":"p18"},{"s":"p18","t":"p19"},{"s":"p15","t":"p16"},{"s":"p0","t":"p20"},{"s":"p20","t":"p24"},{"s":"p24","t":"p21"},{"s":"p24","t":"p22"},{"s":"p22","t":"p23"},{"s":"p24","t":"p25"},{"s":"p25","t":"p27"},{"s":"p24","t":"p26"},{"s":"p20","t":"p30"},{"s":"p30","t":"p31"},{"s":"p30","t":"p32"},{"s":"p32","t":"p33"},{"s":"p33","t":"p34"},{"s":"p34","t":"p35"},{"s":"p34","t":"p36"},{"s":"p30","t":"p37"},{"s":"p37","t":"p38"},{"s":"p38","t":"p39"},{"s":"p39","t":"p40"},{"s":"p30","t":"p49"},{"s":"p49","t":"p48"},{"s":"p30","t":"p43"},{"s":"p43","t":"p41"},{"s":"p41","t":"p42"},{"s":"p43","t":"p44"},{"s":"p44","t":"p45"},{"s":"p45","t":"p46"},{"s":"p46","t":"p47"},
{"s":"p0","t":"m0"},{"s":"m0","t":"m1"},{"s":"m1","t":"m2"},{"s":"m2","t":"m3"},{"s":"m3","t":"m4"},{"s":"m0","t":"m5"},{"s":"m5","t":"m6"},{"s":"m6","t":"m7"},{"s":"m5","t":"m8"},{"s":"m8","t":"m9"},{"s":"m0","t":"m10"},{"s":"m10","t":"m11"},{"s":"m10","t":"m12"},{"s":"m12","t":"m13"},{"s":"m13","t":"m14"},{"s":"m12","t":"m15"},{"s":"m10","t":"m16"},{"s":"m16","t":"m17"},{"s":"m0","t":"m18"},{"s":"m18","t":"m19"},{"s":"m18","t":"m20"},{"s":"m20","t":"m21"},{"s":"m18","t":"m22"},{"s":"m22","t":"m23"},{"s":"m23","t":"m24"},
{"s":"x0","t":"x1"},{"s":"x1","t":"x2"},{"s":"x1","t":"x3"},{"s":"x3","t":"x4"},{"s":"x4","t":"x5"},{"s":"x1","t":"x6"},{"s":"x6","t":"x7"},{"s":"x7","t":"x8"},{"s":"x8","t":"x9"},{"s":"x1","t":"x10"},{"s":"x10","t":"x11"},{"s":"x1","t":"x12"},{"s":"x0","t":"x21"},{"s":"x21","t":"x15"},{"s":"x15","t":"x14"},{"s":"x14","t":"x13"},{"s":"x15","t":"x16"},{"s":"x16","t":"x17"},{"s":"x21","t":"x31"},{"s":"x31","t":"x32"},{"s":"x31","t":"x33"},{"s":"x21","t":"x34"},{"s":"x21","t":"x35"},{"s":"x21","t":"x37"},{"s":"x37","t":"x36"},{"s":"x0","t":"x38"},{"s":"x0","t":"x18"},{"s":"x18","t":"x19"},{"s":"x19","t":"x20"},{"s":"x20","t":"x20b"},{"s":"x20b","t":"x20d"},{"s":"x20","t":"x20c"},{"s":"x18","t":"x22"},{"s":"x22","t":"x23"},{"s":"x23","t":"x24"},{"s":"x24","t":"x25"},{"s":"x25","t":"x26"},{"s":"x18","t":"x27"},{"s":"x27","t":"x28"},{"s":"x28","t":"x29"},{"s":"x0","t":"x30"},{"s":"x0","t":"x40"},{"s":"x40","t":"x39"},{"s":"x0","t":"x41"},{"s":"x41","t":"x42"},{"s":"x42","t":"x43"},{"s":"x43","t":"x44"},{"s":"x42","t":"x45"},{"s":"x42","t":"x46"},{"s":"x46","t":"x47"},{"s":"x46","t":"x48"},{"s":"x48","t":"x49"},{"s":"x49","t":"x50"},{"s":"x50","t":"x51"},{"s":"x42","t":"x52"},{"s":"x52","t":"x53"},{"s":"x53","t":"x54"},{"s":"x54","t":"x55"},{"s":"x53","t":"x56"},{"s":"x56","t":"x57"},{"s":"x52","t":"x58"},{"s":"x58","t":"x59"},{"s":"x59","t":"x60"}
],
"pointers": [
{"x":482,"y":290,"x2":492,"y2":285},
{"x":807,"y":508,"x2":850,"y2":538},
{"x":803,"y":552,"x2":803,"y2":570},
{"x":1190,"y":604,"x2":1162,"y2":648},
{"x":357,"y":942,"x2":353,"y2":963},
{"x":252,"y":1037,"x2":308,"y2":1049},
{"x":605,"y":1082,"x2":637,"y2":1085}
],
"labels": [
{"t":"turn","x":366,"y":71,"fs":21},{"t":"move","x":402,"y":156,"fs":23},{"t":"jump","x":304,"y":196,"fs":20.5},{"t":"walk","x":150,"y":233,"fs":20.5},{"t":"fly","x":306,"y":290,"fs":20.5},{"t":"travel","x":218,"y":315,"fs":26},{"t":"touch","x":355,"y":341,"fs":23},
{"t":"horse","x":437,"y":198,"fs":20},{"t":"equine","x":493,"y":159,"fs":20.5},{"t":"penguin","x":433,"y":234,"fs":20},{"t":"seabird","x":452,"y":302,"fs":20},{"t":"bird","x":494,"y":338,"fs":23},{"t":"reptile","x":537,"y":413,"fs":23},{"t":"rodent","x":678,"y":245,"fs":23.5},{"t":"mammal","x":645,"y":286,"fs":23.5},{"t":"fish","x":658,"y":337,"fs":23.5},{"t":"carnivore","x":753,"y":154,"fs":23.5},
{"t":"talk","x":860,"y":100,"fs":23},{"t":"communicate","x":815,"y":199,"fs":25.5},{"t":"gesticulate","x":948,"y":134,"fs":20.5},{"t":"nod","x":1027,"y":95,"fs":23},{"t":"text","x":1131,"y":112,"fs":25},{"t":"communication","x":1132,"y":246,"fs":23.5},{"t":"attribute","x":1146,"y":283,"fs":23.5},
{"t":"forest","x":899,"y":330,"fs":20},{"t":"climber","x":820,"y":365,"fs":20},{"t":"vegetation","x":948,"y":386,"fs":20},{"t":"athlete","x":860,"y":411,"fs":23.5},{"t":"abstraction","x":1072,"y":448,"fs":23.5},
{"t":"drag","x":430,"y":431,"fs":20},{"t":"move","x":354,"y":480,"fs":23},{"t":"(transitive)","x":333,"y":506,"fs":20},{"t":"pour","x":441,"y":516,"fs":20},{"t":"breathe","x":159,"y":489,"fs":20.5},{"t":"consume","x":530,"y":463,"fs":20},
{"t":"animal","x":611,"y":493,"fs":26},{"t":"adult","x":743,"y":433,"fs":20.5},{"t":"male","x":710,"y":486,"fs":20},{"t":"person","x":743,"y":533,"fs":26},{"t":"skilled","x":884,"y":473,"fs":20},{"t":"worker","x":887,"y":500,"fs":20},{"t":"worker","x":885,"y":540,"fs":20},{"t":"spectator","x":838,"y":577,"fs":20.5},
{"t":"application","x":1060,"y":486,"fs":20},{"t":"event","x":1073,"y":518,"fs":20},{"t":"social event","x":1176,"y":508,"fs":20},{"t":"activity","x":977,"y":551,"fs":20},{"t":"atmospheric","x":1209,"y":562,"fs":23},{"t":"phenom.","x":1187,"y":591,"fs":23},
{"t":"tree","x":496,"y":587,"fs":20},{"t":"palm","x":422,"y":604,"fs":20},{"t":"tree","x":419,"y":629,"fs":20},{"t":"plant","x":597,"y":631,"fs":23.5},{"t":"organism","x":704,"y":613,"fs":25.5},
{"t":"flower","x":797,"y":647,"fs":20},{"t":"emblem","x":572,"y":682,"fs":20},{"t":"design","x":587,"y":713,"fs":20},{"t":"natural","x":778,"y":704,"fs":20},{"t":"object","x":774,"y":731,"fs":20},{"t":"whole","x":689,"y":758,"fs":20},{"t":"geol.","x":872,"y":748,"fs":17},{"t":"formation","x":892,"y":769,"fs":17},{"t":"slope","x":938,"y":684,"fs":20.5},
{"t":"cloud","x":1063,"y":660,"fs":20},{"t":"physical","x":1120,"y":686,"fs":20.5},{"t":"phenom.","x":1123,"y":712,"fs":20.5},{"t":"process","x":1008,"y":706,"fs":14.5},{"t":"eye","x":1212,"y":686,"fs":20},{"t":"thing","x":1043,"y":755,"fs":20.5},{"t":"physical","x":966,"y":785,"fs":13.5},{"t":"entity","x":955,"y":803,"fs":13.5},{"t":"bodypart","x":1133,"y":789,"fs":23.5},{"t":"body of water","x":1052,"y":830,"fs":13.5},
{"t":"food","x":1112,"y":851,"fs":23},{"t":"matter","x":995,"y":869,"fs":24},{"t":"fluid","x":1067,"y":881,"fs":20.5},{"t":"underwater","x":1247,"y":903,"fs":21},{"t":"gas","x":1136,"y":949,"fs":20},{"t":"sky","x":1193,"y":940,"fs":20.5},{"t":"material","x":1127,"y":979,"fs":20},{"t":"compound","x":1233,"y":1017,"fs":20.5},{"t":"city","x":907,"y":866,"fs":20},{"t":"location","x":885,"y":830,"fs":23},
{"t":"road","x":733,"y":819,"fs":20},{"t":"way","x":660,"y":864,"fs":25},{"t":"covering","x":683,"y":897,"fs":21.5},{"t":"protective","x":712,"y":946,"fs":21.5},{"t":"covering","x":703,"y":975,"fs":21.5},{"t":"artifact","x":553,"y":866,"fs":26.5},{"t":"structure","x":573,"y":1003,"fs":26},{"t":"building","x":686,"y":1093,"fs":25.5},
{"t":"container","x":459,"y":747,"fs":25.5},{"t":"device","x":327,"y":756,"fs":25.5},{"t":"weapon","x":167,"y":770,"fs":23.5},{"t":"support","x":222,"y":808,"fs":23},{"t":"furniture","x":206,"y":856,"fs":23},{"t":"instrumentality","x":375,"y":852,"fs":20.5},{"t":"vehicle","x":275,"y":960,"fs":25.5},{"t":"equipment","x":371,"y":980,"fs":20.5},{"t":"tool","x":421,"y":942,"fs":24.5},{"t":"boat","x":129,"y":1001,"fs":20},{"t":"craft","x":208,"y":1001,"fs":25},{"t":"wheeled","x":353,"y":1047,"fs":23},{"t":"vehicle","x":345,"y":1077,"fs":23},{"t":"car","x":185,"y":1124,"fs":20}
],
"legendText": [
{"t":"p>0.01","x":106,"y":1279},{"t":"p<0.01","x":256,"y":1279},{"t":"p<0.001","x":412,"y":1279},{"t":"p<0.0001","x":571,"y":1279},{"t":"0.5","x":768,"y":1279},{"t":"1.0","x":1211,"y":1279}
],
"legendTitle": [
{"t":"Significance","x":337,"y":1343},{"t":"Area Under ROC Curve (AUC)","x":983,"y":1343}
]
},
"layer": [
{
"data": {"name": "edges"},
"transform": [
{"lookup": "s", "from": {"data": {"name": "nodes"}, "key": "id", "fields": ["x", "y"]}},
{"lookup": "t", "from": {"data": {"name": "nodes"}, "key": "id", "fields": ["x", "y"]}, "as": ["tx", "ty"]}
],
"mark": {"type": "rule", "color": "#cdcdcd", "strokeWidth": 1.5},
"encoding": {
"x": {"field": "x", "type": "quantitative", "scale": {"domain": [40, 1325], "nice": false, "zero": false}, "axis": null},
"y": {"field": "y", "type": "quantitative", "scale": {"domain": [22, 1419], "nice": false, "zero": false, "reverse": true}, "axis": null},
"x2": {"field": "tx"},
"y2": {"field": "ty"}
}
},
{
"data": {"name": "pointers"},
"mark": {"type": "rule", "color": "#ffffff", "strokeWidth": 2.4},
"encoding": {
"x": {"field": "x", "type": "quantitative", "scale": {"domain": [40, 1325], "nice": false, "zero": false}, "axis": null},
"y": {"field": "y", "type": "quantitative", "scale": {"domain": [22, 1419], "nice": false, "zero": false, "reverse": true}, "axis": null},
"x2": {"field": "x2"},
"y2": {"field": "y2"}
}
},
{
"data": {"name": "nodes"},
"transform": [{"filter": "datum.shape !== 'square'"}],
"mark": {"type": "point", "shape": "circle", "filled": true, "opacity": 1},
"encoding": {
"x": {"field": "x", "type": "quantitative", "scale": {"domain": [40, 1325], "nice": false, "zero": false}, "axis": null},
"y": {"field": "y", "type": "quantitative", "scale": {"domain": [22, 1419], "nice": false, "zero": false, "reverse": true}, "axis": null},
"size": {"field": "auc", "type": "quantitative", "scale": {"domain": [0.5, 1], "range": [196, 1225], "zero": false}, "legend": null},
"fill": {"field": "sig", "type": "nominal", "scale": {"domain": [">0.01", "<0.01", "<0.001", "<0.0001"], "range": ["#000000", "#5451f5", "#aaa6f6", "#ffffff"]}, "legend": null},
"stroke": {"field": "sig", "type": "nominal", "scale": {"domain": [">0.01", "<0.01", "<0.001", "<0.0001"], "range": ["#5046ee", "#111111", "#111111", "#111111"]}, "legend": null},
"strokeWidth": {"field": "sig", "type": "ordinal", "scale": {"domain": [">0.01", "<0.01", "<0.001", "<0.0001"], "range": [2.2, 0.8, 0.8, 0.8]}, "legend": null}
}
},
{
"data": {"name": "nodes"},
"transform": [{"filter": "datum.shape === 'square'"}],
"mark": {"type": "point", "shape": "square", "filled": true, "opacity": 1},
"encoding": {
"x": {"field": "x", "type": "quantitative", "scale": {"domain": [40, 1325], "nice": false, "zero": false}, "axis": null},
"y": {"field": "y", "type": "quantitative", "scale": {"domain": [22, 1419], "nice": false, "zero": false, "reverse": true}, "axis": null},
"size": {"field": "auc", "type": "quantitative", "scale": {"domain": [0.5, 1], "range": [196, 1225], "zero": false}, "legend": null},
"fill": {"field": "sig", "type": "nominal", "scale": {"domain": [">0.01", "<0.01", "<0.001", "<0.0001"], "range": ["#000000", "#5451f5", "#aaa6f6", "#ffffff"]}, "legend": null},
"stroke": {"field": "sig", "type": "nominal", "scale": {"domain": [">0.01", "<0.01", "<0.001", "<0.0001"], "range": ["#5046ee", "#111111", "#111111", "#111111"]}, "legend": null},
"strokeWidth": {"field": "sig", "type": "ordinal", "scale": {"domain": [">0.01", "<0.01", "<0.001", "<0.0001"], "range": [2.2, 0.8, 0.8, 0.8]}, "legend": null}
}
},
{
"data": {"name": "labels"},
"mark": {"type": "text", "font": "Liberation Sans", "fontStyle": "italic", "fontWeight": "bold", "align": "center", "baseline": "middle", "color": "#000000", "stroke": "#000000", "strokeWidth": 3, "strokeOpacity": 0.75},
"encoding": {
"x": {"field": "x", "type": "quantitative", "scale": {"domain": [40, 1325], "nice": false, "zero": false}, "axis": null},
"y": {"field": "y", "type": "quantitative", "scale": {"domain": [22, 1419], "nice": false, "zero": false, "reverse": true}, "axis": null},
"text": {"field": "t"},
"size": {"field": "fs", "type": "quantitative", "scale": null}
}
},
{
"data": {"name": "labels"},
"mark": {"type": "text", "font": "Liberation Sans", "fontStyle": "italic", "fontWeight": "bold", "align": "center", "baseline": "middle", "color": "#ffffff"},
"encoding": {
"x": {"field": "x", "type": "quantitative", "scale": {"domain": [40, 1325], "nice": false, "zero": false}, "axis": null},
"y": {"field": "y", "type": "quantitative", "scale": {"domain": [22, 1419], "nice": false, "zero": false, "reverse": true}, "axis": null},
"text": {"field": "t"},
"size": {"field": "fs", "type": "quantitative", "scale": null}
}
},
{
"data": {"name": "legendText"},
"mark": {"type": "text", "font": "Liberation Sans", "fontStyle": "italic", "fontWeight": "normal", "fontSize": 31, "align": "center", "baseline": "middle", "color": "#ffffff"},
"encoding": {
"x": {"field": "x", "type": "quantitative", "scale": {"domain": [40, 1325], "nice": false, "zero": false}, "axis": null},
"y": {"field": "y", "type": "quantitative", "scale": {"domain": [22, 1419], "nice": false, "zero": false, "reverse": true}, "axis": null},
"text": {"field": "t"}
}
},
{
"data": {"name": "legendTitle"},
"mark": {"type": "text", "font": "Liberation Sans", "fontStyle": "italic", "fontWeight": "bold", "fontSize": 40, "align": "center", "baseline": "middle", "color": "#ffffff"},
"encoding": {
"x": {"field": "x", "type": "quantitative", "scale": {"domain": [40, 1325], "nice": false, "zero": false}, "axis": null},
"y": {"field": "y", "type": "quantitative", "scale": {"domain": [22, 1419], "nice": false, "zero": false, "reverse": true}, "axis": null},
"text": {"field": "t"}
}
}
]
}
